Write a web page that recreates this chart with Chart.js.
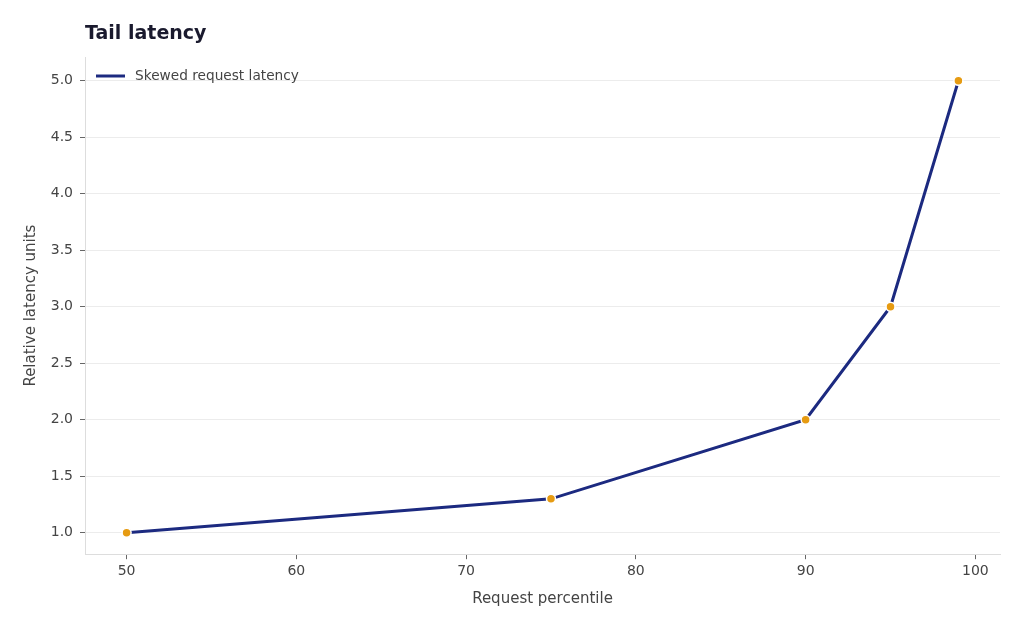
<!DOCTYPE html>
<html>
<head>
<meta charset="utf-8">
<script src="https://cdn.jsdelivr.net/npm/chart.js@4.4.0/dist/chart.umd.min.js"></script>
<style>
  html, body { margin: 0; padding: 0; background: #fff; }
  #wrap { width: 1024px; height: 631px; }
</style>
</head>
<body>
<div id="wrap"><canvas id="chart" width="1024" height="631"></canvas></div>
<script>
const percentiles = [50, 75, 90, 95, 99];
const latency = [1.0, 1.3, 2.0, 3.0, 5.0];
const xTicks = [50, 60, 70, 80, 90, 100];
const yTicks = [1.0, 1.5, 2.0, 2.5, 3.0, 3.5, 4.0, 4.5, 5.0];
const seriesName = "Skewed request latency";
const chartTitle = "Tail latency";

const lineColor = "#1c2a80";
const textColor = "#444";
const fontFamily = "'DejaVu Sans', sans-serif";

Chart.defaults.font.family = fontFamily;
Chart.defaults.color = textColor;

// title and legend drawn relative to the plot area, like the reference
const overlayPlugin = {
    id: "overlay",
    afterDraw(chart) {
        const ctx = chart.ctx;
        const area = chart.chartArea;
        ctx.save();
        ctx.font = "bold 19px " + fontFamily;
        ctx.fillStyle = "#1a1a2e";
        ctx.textBaseline = "middle";
        ctx.textAlign = "left";
        ctx.fillText(chartTitle, area.left, 34);

        const ly = area.top + 19;
        ctx.strokeStyle = lineColor;
        ctx.lineWidth = 3;
        ctx.beginPath();
        ctx.moveTo(area.left + 11, ly);
        ctx.lineTo(area.left + 40, ly);
        ctx.stroke();
        ctx.font = "13.7px " + fontFamily;
        ctx.fillStyle = textColor;
        ctx.fillText(chart.data.datasets[0].label, area.left + 50, ly);
        ctx.restore();
    }
};

new Chart(document.getElementById("chart"), {
    type: "line",
    data: {
        datasets: [{
            label: seriesName,
            data: percentiles.map((p, i) => ({ x: p, y: latency[i] })),
            borderColor: lineColor,
            backgroundColor: lineColor,
            borderWidth: 3,
            tension: 0,
            pointRadius: 4.5,
            pointBackgroundColor: "#e69b12",
            pointBorderColor: "#fff",
            pointBorderWidth: 1.5
        }]
    },
    options: {
        responsive: false,
        animation: false,
        layout: { padding: { top: 57, right: 24, left: 18, bottom: 23 } },
        plugins: {
            title: { display: false },
            tooltip: { enabled: false },
            legend: { display: false }
        },
        scales: {
            x: {
                type: "linear",
                min: 47.55,
                max: 101.45,
                afterBuildTicks(axis) {
                    axis.ticks = xTicks.map(v => ({ value: v }));
                },
                ticks: { font: { size: 14 }, color: textColor, padding: 4 },
                grid: { drawOnChartArea: false, tickLength: 5, tickColor: "#666" },
                border: { color: "#ddd" },
                title: { display: true, text: "Request percentile", font: { size: 15 }, color: textColor, padding: { top: 6, bottom: 0 } }
            },
            y: {
                min: 0.81,
                max: 5.21,
                afterBuildTicks(axis) {
                    axis.ticks = yTicks.map(v => ({ value: v }));
                },
                afterFit(scale) { scale.width = 67; },
                ticks: { font: { size: 14 }, color: textColor, padding: 7, callback: v => v.toFixed(1) },
                grid: { color: "#ececec", tickLength: 5, tickColor: "#666" },
                border: { color: "#ddd" },
                title: { display: true, text: "Relative latency units", font: { size: 15 }, color: textColor, padding: { bottom: 8 } }
            }
        }
    },
    plugins: [overlayPlugin]
});
</script>
</body>
</html>
